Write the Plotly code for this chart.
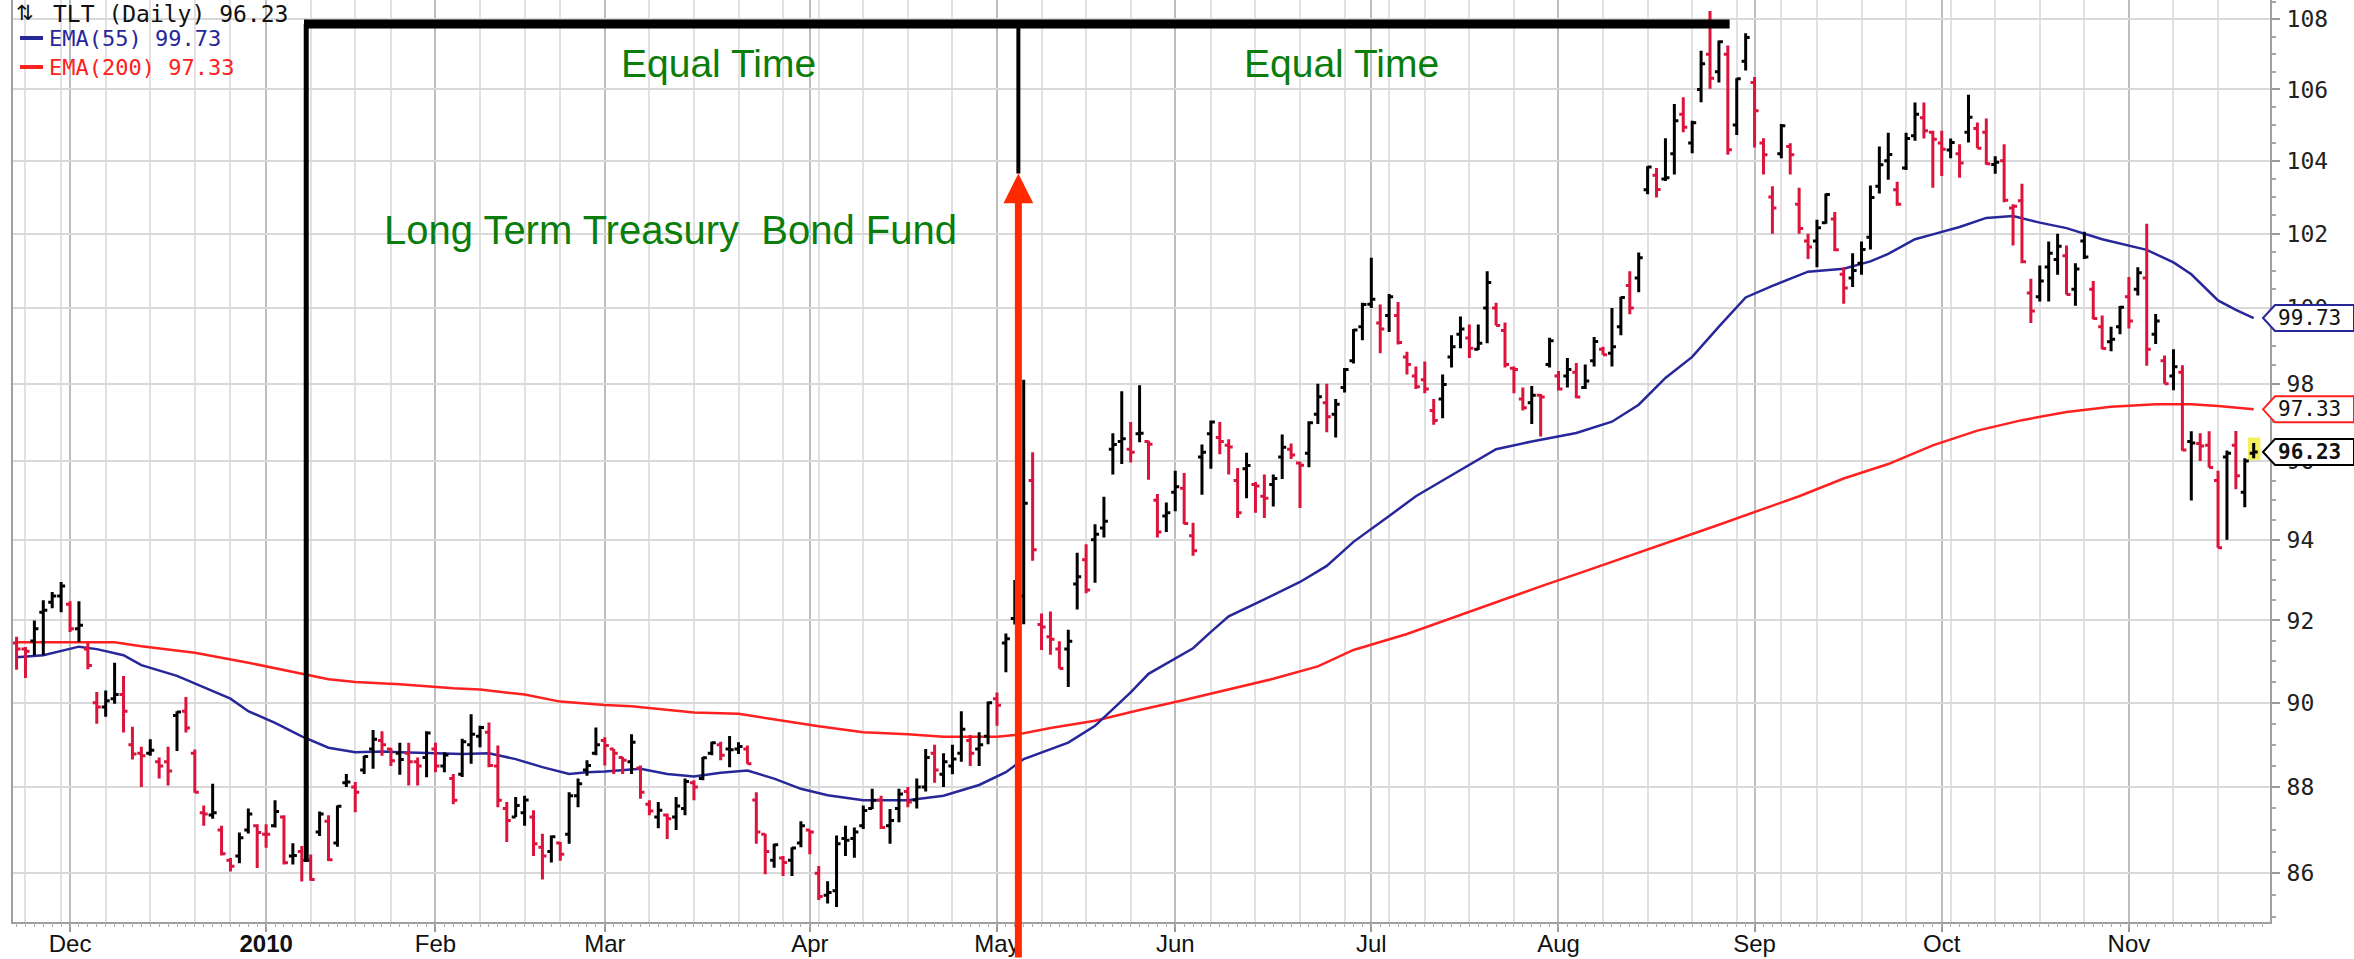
import math
import pandas as pd
import plotly.graph_objects as go

# ---------------- data ----------------
HOLIDAYS = ["2009-11-26", "2009-12-25", "2010-01-01", "2010-01-18", "2010-02-15",
            "2010-04-02", "2010-05-31", "2010-07-05", "2010-09-06"]

open_ = [91.45, 91.3, 91.5, 92.2, 92.45, 92.6,
         92.4, 91.8, 91.3, 90.0, 89.9, 90.1, 90.2, 89.0, 88.8, 88.8, 88.6, 88.6, 89.7, 89.8, 88.8, 87.4, 87.35, 87.0, 86.3, 86.4, 87.0, 87.1,
         86.9, 87.1, 87.3, 86.4, 86.5, 86.3, 86.95, 87.2, 86.7, 88.1, 88.0, 88.4, 88.9, 89.1, 88.9, 88.8, 88.8, 88.6, 88.7,
         88.9, 88.5, 88.2, 88.3, 89.0, 89.2, 89.3, 88.5, 87.5, 87.3, 87.4, 87.3, 86.6, 86.5, 86.7, 86.9, 87.8, 88.4, 88.8,
         89.1, 88.9, 88.7, 88.6, 88.45, 87.6, 87.3, 87.35, 87.3, 87.5, 88.1, 88.2, 88.8, 89.0, 88.9, 88.9, 88.9, 87.7, 86.9, 86.3, 86.35, 86.3, 86.7,
         87.0, 86.0, 85.5, 85.6, 86.8, 86.8, 87.1, 87.5, 87.7, 87.1, 87.5, 87.9, 87.7, 88.0, 88.8, 88.3, 88.5, 88.8, 89.1, 88.9, 89.2,
         90.1, 91.45, 92.05, 92.6, 95.5, 91.9, 91.6, 91.3, 91.3, 92.9, 93.5, 94.0, 94.3, 96.3, 96.5, 96.3, 96.7, 96.5, 95.0, 94.6,
         95.2, 95.3, 94.1, 96.1, 96.7, 96.6, 96.4, 95.5, 95.8, 95.4, 95.1, 95.4, 96.1, 96.3, 95.95, 96.2, 97.2, 97.5, 97.2, 97.9, 98.6, 99.5,
         100.1, 99.6, 99.8, 99.8, 98.7, 98.2, 98.1, 97.3, 97.6, 98.7, 99.3, 99.2, 98.9, 100.0, 100.0, 99.4, 98.4, 97.6, 97.5, 97.7, 98.5,
         98.2, 98.2, 98.3, 97.9, 98.6, 98.9, 98.8, 99.5, 100.6, 100.8, 103.2, 103.6, 103.5, 104.2, 105.3, 104.5, 106.0, 107.0, 106.5, 107.0, 105.0, 106.8,
         106.2, 104.5, 103.0, 104.2, 104.4, 102.8, 101.8, 101.8, 102.3, 102.4, 100.9, 100.8, 101.2, 101.9, 103.3, 104.0, 103.2, 103.8, 104.7, 105.2, 104.8,
         104.5, 104.3, 104.2, 104.8, 104.9, 104.8, 103.9, 104.0, 102.7, 102.9, 100.4, 100.3, 101.1, 101.3, 101.4, 100.5, 101.8, 100.5, 99.5, 99.1, 99.5,
         100.3, 100.5, 100.8, 99.3, 98.6, 98.2, 98.3, 96.5, 96.45, 96.4, 95.5, 96.1, 96.4, 95.2, 96.2]

high = [91.6, 91.35, 92.0, 92.5, 92.7, 92.95,
        92.47, 92.47, 91.45, 90.26, 90.3, 90.97, 90.65, 89.43, 88.95, 89.13, 88.7, 88.95, 89.8, 90.14, 88.89, 87.57, 88.08, 87.1, 86.35, 86.94, 87.5, 87.13,
        87.13, 87.69, 87.34, 86.69, 86.63, 86.43, 87.43, 87.34, 87.57, 88.31, 88.12, 88.74, 89.35, 89.32, 88.93, 89.05, 89.05, 88.7, 89.32,
        89.05, 88.82, 88.31, 89.14, 89.73, 89.45, 89.53, 88.98, 87.65, 87.77, 87.8, 87.46, 86.91, 86.87, 86.72, 87.88, 88.2, 88.63, 89.41,
        89.18, 88.9, 88.71, 89.25, 88.51, 87.69, 87.65, 87.38, 87.77, 88.2, 88.16, 88.71, 89.07, 89.07, 89.21, 89.06, 88.98, 87.88, 86.91, 86.68, 86.4, 86.6, 87.2,
        87.0, 86.17, 85.82, 86.87, 87.1, 87.06, 87.57, 87.96, 87.8, 87.49, 87.96, 88.0, 88.2, 88.9, 89.0, 88.8, 89.0, 89.8, 89.23, 89.3, 90.03,
        90.25, 91.68, 93.0, 98.1, 96.22, 92.17, 92.22, 91.49, 91.77, 93.68, 93.89, 94.39, 95.09, 96.71, 97.8, 97.0, 97.96, 96.52, 95.16, 94.94,
        95.75, 95.69, 94.43, 96.42, 97.04, 97.0, 96.56, 95.82, 96.21, 95.46, 95.65, 95.65, 96.68, 96.45, 95.98, 97.02, 98.0, 98.0, 97.6, 98.41, 99.44, 100.14,
        101.35, 100.09, 100.37, 100.16, 98.84, 98.45, 98.58, 97.6, 98.24, 99.27, 99.77, 99.56, 99.56, 100.98, 100.14, 99.61, 98.45, 97.9, 97.94, 97.73, 99.21,
        98.33, 98.67, 98.54, 98.5, 99.23, 98.97, 100.0, 100.3, 100.98, 101.49, 103.85, 103.8, 104.63, 105.59, 105.78, 105.12, 107.1, 108.24, 107.39, 107.25, 106.32, 107.6,
        106.35, 104.63, 103.3, 105.03, 104.49, 103.26, 102.0, 102.38, 103.1, 102.59, 101.09, 101.47, 101.79, 103.32, 104.4, 104.78, 103.42, 104.78, 105.63, 105.63, 104.84,
        104.84, 104.62, 104.46, 105.85, 105.07, 105.18, 104.13, 104.46, 102.8, 103.37, 100.78, 101.14, 101.79, 102.0, 101.68, 101.2, 102.05, 100.72, 99.8, 99.5, 100.05,
        100.83, 101.09, 102.27, 99.84, 98.74, 98.9, 98.48, 96.76, 96.71, 96.76, 95.75, 96.27, 96.77, 96.07, 96.46]

low = [90.8, 90.6, 91.15, 91.15, 92.3, 92.2,
       91.72, 91.47, 90.81, 89.5, 89.67, 89.98, 89.29, 88.65, 88.0, 88.74, 88.2, 88.04, 88.85, 89.29, 87.87, 87.1, 87.26, 86.41, 86.04, 86.23, 86.92, 86.12,
       86.59, 87.06, 86.2, 86.2, 85.81, 85.83, 86.86, 86.28, 86.61, 88.0, 87.41, 88.31, 88.43, 88.74, 88.5, 88.29, 88.04, 88.04, 88.23,
       88.35, 88.35, 87.6, 88.24, 88.55, 88.94, 88.47, 87.53, 86.72, 87.3, 87.1, 86.4, 85.86, 86.25, 86.29, 86.68, 87.53, 88.27, 88.75,
       88.51, 88.31, 88.31, 88.31, 87.73, 87.34, 87.04, 86.79, 87.0, 87.34, 87.69, 88.16, 88.75, 88.63, 88.47, 88.78, 88.55, 86.68, 85.98, 86.13, 85.94, 85.94, 86.6,
       86.44, 85.39, 85.31, 85.23, 86.4, 86.36, 87.02, 87.49, 87.02, 86.68, 87.18, 87.53, 87.5, 87.9, 88.1, 88.0, 88.3, 88.6, 88.5, 88.5, 89.01,
       89.45, 90.74, 91.9, 91.91, 93.48, 91.28, 91.16, 90.83, 90.38, 92.27, 92.67, 92.93, 94.06, 95.65, 95.92, 95.96, 96.48, 95.52, 94.06, 94.2,
       94.72, 94.39, 93.6, 95.14, 95.8, 96.17, 95.65, 94.55, 95.05, 94.68, 94.55, 94.84, 95.54, 96.05, 94.8, 95.84, 96.95, 96.74, 96.6, 97.77, 98.53, 99.14,
       100.0, 98.8, 99.36, 99.03, 98.24, 97.86, 97.75, 96.93, 97.1, 98.42, 98.93, 98.67, 98.88, 99.06, 99.53, 98.42, 97.75, 97.3, 96.95, 96.63, 98.42,
       97.82, 97.9, 97.62, 97.86, 98.45, 98.76, 98.45, 99.27, 99.83, 100.42, 103.08, 102.99, 103.44, 103.62, 104.8, 104.21, 105.64, 106.02, 106.2, 104.17, 104.72, 106.54,
       104.37, 103.62, 102.0, 104.07, 103.62, 102.0, 101.31, 101.09, 102.27, 101.52, 100.11, 100.56, 100.89, 101.57, 103.1, 103.48, 102.76, 103.75, 104.56, 104.62, 103.26,
       103.58, 104.07, 103.53, 104.51, 104.35, 103.89, 103.64, 102.86, 101.68, 101.2, 99.6, 100.17, 100.17, 100.89, 100.36, 100.06, 101.31, 99.7, 98.9, 98.85, 99.3,
       99.45, 100.33, 98.47, 99.04, 98.0, 97.83, 96.26, 94.99, 96.0, 95.83, 93.8, 94.0, 95.28, 94.82, 96.07]

close = [91.3, 91.25, 91.8, 92.25, 92.6, 92.85,
         91.8, 91.88, 90.9, 89.9, 90.05, 90.2, 89.8, 88.78, 88.74, 88.87, 88.5, 88.38, 89.78, 89.4, 87.88, 87.37, 87.4, 86.45, 86.16, 86.82, 87.37, 86.94,
         86.9, 87.43, 86.24, 86.41, 86.3, 85.86, 87.37, 86.31, 87.55, 88.12, 87.88, 88.72, 89.13, 89.0, 88.62, 88.65, 88.6, 88.5, 89.28,
         88.5, 88.76, 87.69, 89.07, 89.25, 89.41, 88.51, 87.69, 87.22, 87.57, 87.7, 86.68, 86.4, 86.84, 86.44, 87.8, 88.08, 88.51, 89.0,
         88.98, 88.8, 88.63, 89.06, 87.88, 87.44, 87.46, 87.26, 87.56, 88.13, 88.0, 88.69, 89.05, 88.75, 88.88, 88.96, 88.55, 86.95, 86.5, 86.66, 86.25, 86.58, 87.1,
         86.95, 85.47, 85.56, 86.68, 86.76, 86.95, 87.45, 87.69, 87.06, 87.22, 87.84, 87.65, 88.0, 88.7, 88.4, 88.6, 88.66, 89.37, 88.8, 89.0, 90.0,
         89.94, 91.55, 92.5, 94.92, 93.75, 91.84, 91.54, 90.83, 91.49, 93.08, 92.75, 94.14, 94.47, 96.42, 96.57, 96.22, 96.71, 96.43, 94.2, 94.68,
         95.34, 94.41, 93.73, 96.22, 97.0, 96.5, 96.36, 94.68, 95.88, 95.36, 95.05, 95.55, 96.35, 96.15, 95.89, 96.98, 97.66, 97.14, 97.46, 98.37, 99.41, 100.09,
         100.23, 99.44, 100.3, 99.08, 98.5, 97.92, 97.86, 97.04, 97.98, 98.97, 99.44, 98.93, 99.06, 100.68, 99.53, 98.5, 98.37, 97.37, 97.7, 97.65, 99.13,
         97.86, 98.37, 97.65, 98.07, 99.11, 98.76, 98.97, 100.28, 100.0, 101.35, 103.83, 103.21, 103.53, 105.12, 104.94, 105.06, 106.73, 106.32, 107.36, 104.31, 106.3, 107.48,
         105.4, 104.17, 102.7, 104.98, 104.17, 102.14, 101.64, 102.16, 103.07, 101.56, 100.53, 101.0, 101.57, 102.99, 103.89, 104.18, 102.8, 104.62, 105.3, 104.84, 104.6,
         104.32, 104.51, 103.94, 105.22, 104.35, 103.92, 103.96, 102.91, 102.75, 101.24, 99.92, 100.72, 101.47, 101.66, 100.36, 101.04, 101.37, 99.72, 98.92, 99.17, 100.02,
         99.65, 100.94, 98.9, 99.65, 98.0, 98.44, 96.28, 96.46, 96.38, 95.83, 93.8, 96.2, 95.62, 96.0, 96.23]

ema55_dates = ["2009-11-20", "2009-11-25", "2009-12-02", "2009-12-04", "2009-12-09", "2009-12-11", "2009-12-17",
               "2009-12-21", "2009-12-28", "2009-12-30", "2010-01-05", "2010-01-08", "2010-01-13", "2010-01-19",
               "2010-01-22", "2010-01-26", "2010-02-04", "2010-02-09", "2010-02-12", "2010-02-18", "2010-02-23",
               "2010-02-25", "2010-03-01", "2010-03-05", "2010-03-10", "2010-03-15", "2010-03-18", "2010-03-23",
               "2010-03-26", "2010-03-31", "2010-04-06", "2010-04-12", "2010-04-19", "2010-04-23", "2010-04-29",
               "2010-05-04", "2010-05-06", "2010-05-13", "2010-05-18", "2010-05-20", "2010-05-24", "2010-05-26",
               "2010-06-03", "2010-06-07", "2010-06-09", "2010-06-15", "2010-06-21", "2010-06-24", "2010-06-29",
               "2010-07-06", "2010-07-09", "2010-07-14", "2010-07-22", "2010-07-28", "2010-08-04", "2010-08-10",
               "2010-08-13", "2010-08-18", "2010-08-23", "2010-08-26", "2010-08-31", "2010-09-03", "2010-09-10",
               "2010-09-16", "2010-09-21", "2010-09-23", "2010-09-28", "2010-09-30", "2010-10-05", "2010-10-08",
               "2010-10-13", "2010-10-18", "2010-10-21", "2010-10-27", "2010-11-03", "2010-11-08", "2010-11-10",
               "2010-11-15", "2010-11-17", "2010-11-19"]
ema55_vals = [91.10, 91.15, 91.36, 91.30, 91.15, 90.91, 90.65,
              90.46, 90.10, 89.80, 89.52, 89.20, 88.93, 88.82,
              88.84, 88.82, 88.78, 88.80, 88.66, 88.47, 88.31,
              88.35, 88.37, 88.43, 88.31, 88.25, 88.34, 88.39,
              88.20, 87.96, 87.81, 87.69, 87.69, 87.80, 88.05,
              88.35, 88.66, 89.05, 89.45, 89.85, 90.25, 90.70,
              91.32, 91.72, 92.10, 92.52, 92.95, 93.35, 93.95,
              94.60, 95.10, 95.50, 96.30, 96.50, 96.72, 97.01,
              97.45, 98.15, 98.70, 99.50, 100.28, 100.59, 100.97,
              101.05, 101.25, 101.45, 101.85, 101.98, 102.18, 102.43,
              102.48, 102.30, 102.15, 101.85, 101.56, 101.22, 100.90,
              100.20, 99.95, 99.73]

ema200_dates = ["2009-11-20", "2009-12-08", "2009-12-11", "2009-12-21", "2009-12-30", "2010-01-08", "2010-01-13",
                "2010-01-19", "2010-01-26", "2010-02-03", "2010-02-08", "2010-02-16", "2010-02-22", "2010-03-01",
                "2010-03-04", "2010-03-15", "2010-03-22", "2010-03-29", "2010-04-05", "2010-04-12", "2010-04-19",
                "2010-04-23", "2010-05-03", "2010-05-05", "2010-05-11", "2010-05-18", "2010-05-25", "2010-06-02",
                "2010-06-09", "2010-06-16", "2010-06-23", "2010-06-29", "2010-07-08", "2010-07-15", "2010-07-22",
                "2010-07-29", "2010-08-05", "2010-08-12", "2010-08-19", "2010-08-26", "2010-09-02", "2010-09-09",
                "2010-09-16", "2010-09-23", "2010-09-30", "2010-10-07", "2010-10-14", "2010-10-21", "2010-10-28",
                "2010-11-04", "2010-11-10", "2010-11-15", "2010-11-19"]
ema200_vals = [91.47, 91.47, 91.37, 91.21, 90.97, 90.70, 90.57,
               90.50, 90.45, 90.35, 90.32, 90.20, 90.03, 89.95,
               89.92, 89.77, 89.74, 89.57, 89.44, 89.30, 89.25,
               89.19, 89.19, 89.23, 89.40, 89.57, 89.83, 90.07,
               90.32, 90.58, 90.88, 91.28, 91.67, 92.06, 92.45,
               92.84, 93.22, 93.60, 93.98, 94.38, 94.78, 95.10,
               95.55, 95.92, 96.40, 96.78, 97.05, 97.26, 97.40,
               97.46, 97.46, 97.42, 97.33]

y_ticks = [86, 88, 90, 92, 94, 96, 98, 100, 102, 104, 106, 108]
month_names = {"01": "2010", "02": "Feb", "03": "Mar", "04": "Apr", "05": "May", "06": "Jun",
               "07": "Jul", "08": "Aug", "09": "Sep", "10": "Oct", "11": "Nov", "12": "Dec"}

# ---------------- derived ----------------
dates = [d.strftime("%Y-%m-%d") for d in pd.bdate_range("2009-11-20", "2010-11-19")
         if d.strftime("%Y-%m-%d") not in HOLIDAYS]
n = len(dates)
assert n == len(open_) == len(high) == len(low) == len(close)
P = {d: k for k, d in enumerate(dates)}

up = [close[0] >= open_[0]] + [close[k] >= close[k - 1] for k in range(1, n)]

month_pos = [k for k in range(1, n) if dates[k][5:7] != dates[k - 1][5:7]]
month_txt = ["<b>2010</b>" if dates[k][5:7] == "01" else month_names[dates[k][5:7]] for k in month_pos]
week_pos = [k for k in range(1, n)
            if pd.Timestamp(dates[k]).isocalendar()[1] != pd.Timestamp(dates[k - 1]).isocalendar()[1]]

BLACK = "#000000"
RED_BAR = "#dc143c"
BLUE = "#27279a"
RED_LINE = "#ff2020"
GREEN = "#0b7d0b"

fig = go.Figure()

fig.add_trace(go.Scatter(x=[P[d] for d in ema200_dates], y=ema200_vals, mode="lines",
                         line=dict(color=RED_LINE, width=2.5), hoverinfo="skip", showlegend=False))
fig.add_trace(go.Scatter(x=[P[d] for d in ema55_dates], y=ema55_vals, mode="lines",
                         line=dict(color=BLUE, width=2.5), hoverinfo="skip", showlegend=False))

for flag, col in [(True, BLACK), (False, RED_BAR)]:
    idx = [k for k in range(n) if up[k] == flag]
    fig.add_trace(go.Ohlc(
        x=idx,
        open=[open_[k] for k in idx], high=[high[k] for k in idx],
        low=[low[k] for k in idx], close=[close[k] for k in idx],
        increasing=dict(line=dict(color=col, width=3)),
        decreasing=dict(line=dict(color=col, width=3)),
        tickwidth=0.45, xaxis="x2", yaxis="y", hoverinfo="skip", showlegend=False))

W, H = 2354, 959
ML, MR, MT, MB = 13, 84, 0, 37
PW, PH = W - ML - MR, H - MT - MB


def px_x(px):
    return (px - ML) / PW


def px_y(py):
    return 1 - (py - MT) / PH


xr = [-0.4, n - 1 + 1.83]
yr = [math.log10(84.89), math.log10(108.56)]

fig.update_layout(
    width=W, height=H,
    margin=dict(l=ML, r=MR, t=MT, b=MB, pad=0),
    paper_bgcolor="white", plot_bgcolor="white",
    showlegend=False,
    xaxis=dict(
        range=xr, type="linear", tickmode="array", tickvals=month_pos, ticktext=month_txt,
        showgrid=True, gridcolor="#bdbdbd", gridwidth=2,
        ticks="outside", ticklen=8, tickwidth=1.5, tickcolor="#9a9a9a",
        ticklabelstandoff=-9,
        tickfont=dict(family="Liberation Sans", size=24, color="#111111"),
        showline=True, linecolor="#a0a0a0", linewidth=2, zeroline=False,
        minor=dict(tickmode="array", tickvals=week_pos, showgrid=True, gridcolor="#e1e1e1",
                   gridwidth=2, ticks=""),
        rangeslider=dict(visible=False), automargin=False, fixedrange=True),
    xaxis2=dict(
        range=xr, type="linear", overlaying="x", anchor="y", side="bottom",
        tickmode="linear", tick0=0, dtick=1, ticks="outside", ticklen=4, tickwidth=1,
        tickcolor="#b0b0b0", showticklabels=False, showgrid=False, zeroline=False, showline=False,
        rangeslider=dict(visible=False), automargin=False, fixedrange=True),
    yaxis=dict(
        type="log", range=yr, side="right", tickmode="array", tickvals=y_ticks,
        ticktext=[str(v) for v in y_ticks],
        showgrid=True, gridcolor="#d9d9d9", gridwidth=2,
        ticks="outside", ticklen=8, tickwidth=1.5, tickcolor="#9a9a9a",
        ticklabelstandoff=2,
        tickfont=dict(family="DejaVu Sans Mono", size=23, color="#222222"),
        showline=True, linecolor="#a0a0a0", linewidth=2, mirror=True, zeroline=False,
        minor=dict(tickmode="array", tickvals=[85 + 0.5 * k for k in range(48)],
                   ticks="outside", ticklen=4, tickcolor="#a8a8a8", showgrid=False),
        automargin=False, fixedrange=True),
)

# highlight of the last bar
last = n - 1
fig.add_shape(type="rect", xref="x", yref="y", x0=last - 0.65, x1=last + 0.75,
              y0=low[last] - 0.07, y1=high[last] + 0.14,
              fillcolor="#f3f05c", line=dict(width=0), layer="below")

# "equal time" construction lines
x_left = P["2010-01-08"] + 0.5
x_mid = P["2010-05-05"] + 0.4
x_right = P["2010-08-27"] + 0.2
LINE_TOP = 107.87
LEFT_BOTTOM = 86.26
MID_BOTTOM = 103.65

fig.add_shape(type="line", xref="x", yref="y", x0=x_left, x1=x_left, y0=LINE_TOP, y1=LEFT_BOTTOM,
              line=dict(color="black", width=5), layer="above")
fig.add_shape(type="line", xref="x", yref="y", x0=x_mid, x1=x_mid, y0=LINE_TOP, y1=MID_BOTTOM,
              line=dict(color="black", width=4), layer="above")
fig.add_shape(type="line", xref="x", yref="y", x0=x_left - 0.25, x1=x_right, y0=LINE_TOP, y1=LINE_TOP,
              line=dict(color="black", width=9), layer="above")

# red arrow from the bottom up to the middle line
fig.add_annotation(x=x_mid, y=math.log10(MID_BOTTOM), xref="x", yref="y", text="",
                   showarrow=True, ax=0, ay=820, axref="pixel", ayref="pixel",
                   arrowhead=2, arrowsize=0.85, arrowwidth=7, arrowcolor="#ff2a00", standoff=0)

# green texts
fig.add_annotation(x=P["2010-03-18"] - 0.2, y=math.log10(106.75), xref="x", yref="y",
                   text="Equal Time", showarrow=False,
                   font=dict(family="Liberation Sans", size=39, color=GREEN),
                   xanchor="center", yanchor="middle")
fig.add_annotation(x=P["2010-06-28"] - 0.4, y=math.log10(106.75), xref="x", yref="y",
                   text="Equal Time", showarrow=False,
                   font=dict(family="Liberation Sans", size=39, color=GREEN),
                   xanchor="center", yanchor="middle")
fig.add_annotation(x=P["2010-03-11"] - 0.6, y=math.log10(102.1), xref="x", yref="y",
                   text="Long Term Treasury\u00a0 Bond Fund", showarrow=False,
                   font=dict(family="Liberation Sans", size=40, color=GREEN),
                   xanchor="center", yanchor="middle")

# header / legend (top-left)
fig.add_annotation(x=px_x(15), y=1.0, xref="paper", yref="paper", text="\u21c5",
                   showarrow=False, xanchor="left", yanchor="top", borderpad=0,
                   font=dict(family="DejaVu Sans", size=21, color="#111111"))
fig.add_annotation(x=px_x(52), y=1.0, xref="paper", yref="paper",
                   text=f"TLT (Daily) {close[-1]:.2f}", showarrow=False, xanchor="left", yanchor="top",
                   borderpad=0, font=dict(family="DejaVu Sans Mono", size=23, color="#111111"))
for yy, col, label in [(38, BLUE, f"EMA(55) {ema55_vals[-1]:.2f}"), (67, RED_LINE, f"EMA(200) {ema200_vals[-1]:.2f}")]:
    fig.add_shape(type="line", xref="paper", yref="paper", x0=px_x(20), x1=px_x(43),
                  y0=px_y(yy), y1=px_y(yy), line=dict(color=col, width=4))
    fig.add_annotation(x=px_x(47), y=px_y(yy), xref="paper", yref="paper", text=label,
                       showarrow=False, xanchor="left", yanchor="middle",
                       font=dict(family="DejaVu Sans Mono", size=22, color=col))

# value tags on the right axis
tags = [(ema55_vals[-1], BLUE, False), (ema200_vals[-1], RED_LINE, False), (close[-1], BLACK, True)]
for v, col, bold in tags:
    fig.add_shape(type="path", xref="paper", yref="y", xsizemode="pixel", ysizemode="pixel",
                  xanchor=px_x(2263), yanchor=v,
                  path="M0,0 L12,13 L91,13 L91,-13 L12,-13 Z",
                  fillcolor="white", line=dict(color=col, width=2), layer="above")
    t = f"{v:.2f}"
    fig.add_annotation(x=px_x(2277), y=math.log10(v), xref="paper", yref="y",
                       text=f"<b>{t}</b>" if bold else t, showarrow=False,
                       xanchor="left", yanchor="middle", borderpad=0,
                       font=dict(family="DejaVu Sans Mono", size=21, color="#111111"))

fig.write_html("out.html", config={"displayModeBar": False},
               post_script="document.body.style.margin='0px';")
